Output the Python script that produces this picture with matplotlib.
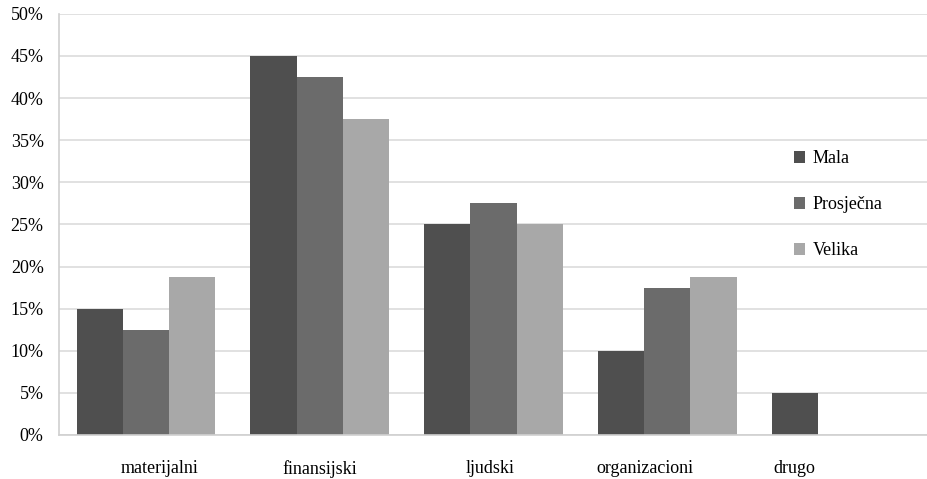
import numpy as np
import matplotlib.pyplot as plt
from matplotlib.ticker import PercentFormatter

categories = ["materijalni", "finansijski", "ljudski", "organizacioni", "drugo"]
series = ["Mala", "Prosječna", "Velika"]
mala = [15, 45, 25, 10, 5]
prosjecna = [12.5, 42.5, 27.5, 17.5, 0]
velika = [18.75, 37.5, 25, 18.75, 0]
colors = ["#4f4f4f", "#6b6b6b", "#a8a8a8"]

plt.rcParams["font.family"] = ["Liberation Serif", "DejaVu Serif"]
plt.rcParams["font.size"] = 13

fig = plt.figure(figsize=(9.28, 4.79), dpi=100)
ax = fig.add_axes([0.0636, 0.092, 0.9364, 0.879])

x = np.arange(len(categories))
w = 0.266
for i, (vals, name) in enumerate(zip([mala, prosjecna, velika], series)):
    ax.bar(x + (i - 1) * w, vals, w, color=colors[i], label=name, zorder=2)

ax.set_xlim(-0.5, 4.5)
ax.set_ylim(0, 50)
ax.set_yticks(np.arange(0, 51, 5))
ax.yaxis.set_major_formatter(PercentFormatter(decimals=0))
ax.grid(axis="y", color="#dcdcdc", linewidth=1.2, zorder=0)

# label positions as in the original (drugo sits under its only bar)
ax.set_xticks([0.08, 1.0, 1.98, 2.87, 3.73])
ax.set_xticklabels(categories)
ax.tick_params(axis="x", length=0, pad=18)
ax.tick_params(axis="y", length=0, pad=11)

for s in ["top", "right"]:
    ax.spines[s].set_visible(False)
ax.spines["left"].set_color("#d0d0d0")
ax.spines["bottom"].set_color("#d0d0d0")
ax.spines["left"].set_linewidth(1.2)
ax.spines["bottom"].set_linewidth(1.2)

fig.legend(loc="upper left", bbox_to_anchor=(0.838, 0.72), frameon=False,
           handlelength=0.6, handleheight=0.6, handletextpad=0.45, labelspacing=1.6)

plt.savefig("out.png")
